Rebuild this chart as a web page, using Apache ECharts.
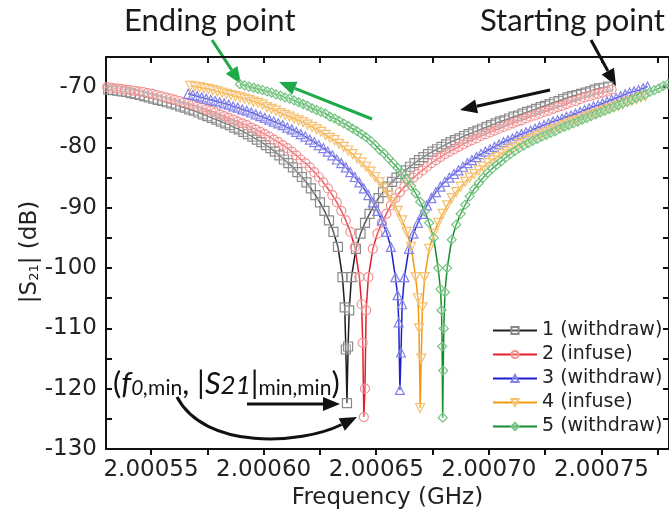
<!DOCTYPE html>
<html>
<head>
<meta charset="utf-8">
<script src="https://cdn.jsdelivr.net/npm/echarts@6/dist/echarts.min.js"></script>
<style>
  html, body { margin: 0; padding: 0; background: #fff; }
  #chart { width: 669px; height: 519px; }
</style>
</head>
<body>
<div id="chart"></div>
<script>
// x values: frequency offset from 2.0005 GHz, in kHz
const baseGHz = 2.0005
const labelTicks = [50, 100, 150, 200, 250]
const allTicks = [50, 75, 100, 125, 150, 175, 200, 225, 250, 275]
const runNames = ['1 (withdraw)', '2 (infuse)', '3 (withdraw)', '4 (infuse)', '5 (withdraw)']

const run1 = [
  [29, -70.3], [31, -70.4], [33, -70.5], [35, -70.6], [37, -70.7], [39, -70.8], [41, -71.0], [43, -71.1],
  [45, -71.3], [47, -71.5], [49, -71.7], [51, -71.9], [53, -72.1], [55, -72.3], [57, -72.5], [59, -72.7],
  [61, -72.9], [63, -73.2], [65, -73.4], [67, -73.7], [69, -73.9], [71, -74.2], [73, -74.5], [75, -74.8],
  [77, -75.1], [79, -75.4], [81, -75.7], [83, -76.0], [85, -76.3], [87, -76.7], [89, -77.0], [91, -77.4],
  [93, -77.8], [95, -78.2], [97, -78.7], [99, -79.1], [101, -79.6], [103, -80.1], [105, -80.7], [107, -81.3],
  [109, -82.0], [111, -82.6], [113, -83.3], [115, -84.1], [117, -84.9], [119, -85.8], [121, -86.8], [123, -87.9],
  [125, -89.1], [127, -90.5], [129, -92.1], [131, -94.0], [133, -96.5], [135, -101.5], [136, -106.5], [136.5, -113.5],
  [137, -122.4], [137.5, -113], [138, -107], [139, -101.5], [141, -96.8], [143, -94.3], [145, -92.5], [147, -91.0],
  [149, -89.6], [151, -88.4], [153, -87.4], [155, -86.5], [157, -85.7], [159, -85.0], [161, -84.4], [163, -83.8],
  [165, -83.2], [167, -82.6], [169, -82.1], [171, -81.6], [173, -81.1], [175, -80.7], [177, -80.3], [179, -79.9],
  [181, -79.5], [183, -79.1], [185, -78.8], [187, -78.5], [189, -78.1], [191, -77.8], [193, -77.5], [195, -77.2],
  [197, -76.9], [199, -76.6], [201, -76.3], [203, -76.0], [205, -75.7], [207, -75.5], [209, -75.2], [211, -74.9],
  [213, -74.7], [215, -74.4], [217, -74.1], [219, -73.9], [221, -73.6], [223, -73.3], [225, -73.1], [227, -72.8],
  [229, -72.5], [231, -72.3], [233, -72.0], [235, -71.7], [237, -71.5], [239, -71.3], [241, -71.1], [243, -70.9],
  [245, -70.7], [247, -70.4], [249, -70.2], [251, -70.1], [253, -69.9]
]

const run2 = [
  [26.5, -69.8], [28.5, -69.9], [30.5, -70.0], [32.5, -70.1], [34.5, -70.2], [36.5, -70.3], [38.5, -70.4], [40.5, -70.5],
  [42.5, -70.6], [44.5, -70.7], [46.5, -70.8], [48.5, -71.0], [50.5, -71.1], [52.5, -71.3], [54.5, -71.5], [56.5, -71.7],
  [58.5, -71.9], [60.5, -72.1], [62.5, -72.3], [64.5, -72.5], [66.5, -72.7], [68.5, -72.9], [70.5, -73.2], [72.5, -73.4],
  [74.5, -73.7], [76.5, -73.9], [78.5, -74.2], [80.5, -74.5], [82.5, -74.8], [84.5, -75.1], [86.5, -75.4], [88.5, -75.7],
  [90.5, -76.0], [92.5, -76.3], [94.5, -76.7], [96.5, -77.0], [98.5, -77.4], [100.5, -77.8], [102.5, -78.2], [104.5, -78.7],
  [106.5, -79.1], [108.5, -79.6], [110.5, -80.1], [112.5, -80.7], [114.5, -81.3], [116.5, -82.0], [118.5, -82.6], [120.5, -83.3],
  [122.5, -84.1], [124.5, -84.9], [126.5, -85.8], [128.5, -86.8], [130.5, -87.9], [132.5, -89.1], [134.5, -90.5], [136.5, -92.1],
  [138.5, -94.0], [140.5, -96.5], [142.5, -101.5], [143.5, -106], [144, -112.4], [144.5, -124.7], [145, -120], [145.5, -107],
  [146.5, -101.5], [148.5, -96.8], [150.5, -94.3], [152.5, -92.5], [154.5, -91.0], [156.5, -89.6], [158.5, -88.4], [160.5, -87.4],
  [162.5, -86.5], [164.5, -85.7], [166.5, -85.0], [168.5, -84.4], [170.5, -83.8], [172.5, -83.2], [174.5, -82.6], [176.5, -82.1],
  [178.5, -81.6], [180.5, -81.1], [182.5, -80.7], [184.5, -80.3], [186.5, -79.9], [188.5, -79.5], [190.5, -79.1], [192.5, -78.8],
  [194.5, -78.5], [196.5, -78.1], [198.5, -77.8], [200.5, -77.5], [202.5, -77.2], [204.5, -76.9], [206.5, -76.6], [208.5, -76.3],
  [210.5, -76.0], [212.5, -75.7], [214.5, -75.5], [216.5, -75.2], [218.5, -74.9], [220.5, -74.7], [222.5, -74.4], [224.5, -74.1],
  [226.5, -73.9], [228.5, -73.6], [230.5, -73.3], [232.5, -73.1], [234.5, -72.8], [236.5, -72.5], [238.5, -72.3], [240.5, -72.0],
  [242.5, -71.7], [244.5, -71.5], [246.5, -71.3], [248.5, -71.1], [250.5, -70.9], [252.5, -70.7], [254.5, -70.4]
]

const run3 = [
  [66.5, -71.1], [68.5, -71.3], [70.5, -71.5], [72.5, -71.7], [74.5, -71.9], [76.5, -72.1], [78.5, -72.3], [80.5, -72.5],
  [82.5, -72.7], [84.5, -72.9], [86.5, -73.2], [88.5, -73.4], [90.5, -73.7], [92.5, -73.9], [94.5, -74.2], [96.5, -74.5],
  [98.5, -74.8], [100.5, -75.1], [102.5, -75.4], [104.5, -75.7], [106.5, -76.0], [108.5, -76.3], [110.5, -76.7], [112.5, -77.0],
  [114.5, -77.4], [116.5, -77.8], [118.5, -78.2], [120.5, -78.7], [122.5, -79.1], [124.5, -79.6], [126.5, -80.1], [128.5, -80.7],
  [130.5, -81.3], [132.5, -82.0], [134.5, -82.6], [136.5, -83.3], [138.5, -84.1], [140.5, -84.9], [142.5, -85.8], [144.5, -86.8],
  [146.5, -87.9], [148.5, -89.1], [150.5, -90.5], [152.5, -92.1], [154.5, -94.0], [156.5, -96.5], [158.5, -101.5], [159.5, -104.5],
  [160, -109], [160.5, -120.2], [161, -114], [161.5, -106], [162.5, -101.5], [164.5, -96.8], [166.5, -94.3], [168.5, -92.5],
  [170.5, -91.0], [172.5, -89.6], [174.5, -88.4], [176.5, -87.4], [178.5, -86.5], [180.5, -85.7], [182.5, -85.0], [184.5, -84.4],
  [186.5, -83.8], [188.5, -83.2], [190.5, -82.6], [192.5, -82.1], [194.5, -81.6], [196.5, -81.1], [198.5, -80.7], [200.5, -80.3],
  [202.5, -79.9], [204.5, -79.5], [206.5, -79.1], [208.5, -78.8], [210.5, -78.5], [212.5, -78.1], [214.5, -77.8], [216.5, -77.5],
  [218.5, -77.2], [220.5, -76.9], [222.5, -76.6], [224.5, -76.3], [226.5, -76.0], [228.5, -75.7], [230.5, -75.5], [232.5, -75.2],
  [234.5, -74.9], [236.5, -74.7], [238.5, -74.4], [240.5, -74.1], [242.5, -73.8], [244.5, -73.5], [246.5, -73.2], [248.5, -73.0],
  [250.5, -72.7], [252.5, -72.4], [254.5, -72.1], [256.5, -71.8], [258.5, -71.5], [260.5, -71.2], [262.5, -70.9], [264.5, -70.7],
  [266.5, -70.5], [268.5, -70.2], [270.5, -69.9]
]

const run4 = [
  [67.5, -69.8], [69.5, -69.9], [71.5, -70.0], [73.5, -70.2], [75.5, -70.3], [77.5, -70.5], [79.5, -70.7], [81.5, -70.9],
  [83.5, -71.1], [85.5, -71.3], [87.5, -71.5], [89.5, -71.7], [91.5, -71.9], [93.5, -72.1], [95.5, -72.4], [97.5, -72.6],
  [99.5, -72.9], [101.5, -73.3], [103.5, -73.6], [105.5, -73.9], [107.5, -74.3], [109.5, -74.6], [111.5, -74.9], [113.5, -75.2],
  [115.5, -75.5], [117.5, -75.8], [119.5, -76.2], [121.5, -76.6], [123.5, -77.0], [125.5, -77.4], [127.5, -77.9], [129.5, -78.4],
  [131.5, -78.8], [133.5, -79.4], [135.5, -79.9], [137.5, -80.5], [139.5, -81.1], [141.5, -81.8], [143.5, -82.5], [145.5, -83.2],
  [147.5, -84.0], [149.5, -84.9], [151.5, -85.8], [153.5, -86.8], [155.5, -87.9], [157.5, -89.1], [159.5, -90.5], [161.5, -92.1],
  [163.5, -94.0], [165.5, -96.5], [167.5, -101.5], [168.5, -105], [169, -110], [169.5, -123.2], [170, -115], [170.5, -106.5],
  [171.5, -101.5], [173.5, -96.8], [175.5, -94.3], [177.5, -92.5], [179.5, -91.0], [181.5, -89.6], [183.5, -88.4], [185.5, -87.4],
  [187.5, -86.5], [189.5, -85.7], [191.5, -85.0], [193.5, -84.4], [195.5, -83.8], [197.5, -83.2], [199.5, -82.6], [201.5, -82.1],
  [203.5, -81.6], [205.5, -81.1], [207.5, -80.7], [209.5, -80.3], [211.5, -79.9], [213.5, -79.5], [215.5, -79.1], [217.5, -78.8],
  [219.5, -78.5], [221.5, -78.1], [223.5, -77.8], [225.5, -77.5], [227.5, -77.2], [229.5, -76.9], [231.5, -76.6], [233.5, -76.3],
  [235.5, -76.0], [237.5, -75.7], [239.5, -75.5], [241.5, -75.2], [243.5, -74.9], [245.5, -74.7], [247.5, -74.4], [249.5, -74.1],
  [251.5, -73.9], [253.5, -73.6], [255.5, -73.3], [257.5, -73.1], [259.5, -72.8], [261.5, -72.5], [263.5, -72.3], [265.5, -72.0],
  [267.5, -71.7], [269.5, -71.5]
]

const run5 = [
  [89.5, -69.5], [91.5, -69.7], [93.5, -69.9], [95.5, -70.1], [97.5, -70.3], [99.5, -70.5], [101.5, -70.7], [103.5, -70.9],
  [105.5, -71.2], [107.5, -71.4], [109.5, -71.7], [111.5, -71.9], [113.5, -72.2], [115.5, -72.5], [117.5, -72.8], [119.5, -73.1],
  [121.5, -73.5], [123.5, -73.8], [125.5, -74.1], [127.5, -74.4], [129.5, -74.9], [131.5, -75.2], [133.5, -75.6], [135.5, -76.0],
  [137.5, -76.4], [139.5, -76.9], [141.5, -77.3], [143.5, -77.8], [145.5, -78.3], [147.5, -78.9], [149.5, -79.6], [151.5, -80.4],
  [153.5, -81.0], [155.5, -81.8], [157.5, -82.6], [159.5, -83.4], [161.5, -84.3], [163.5, -85.3], [165.5, -86.4], [167.5, -87.6],
  [169.5, -89.0], [171.5, -90.6], [173.5, -92.5], [175.5, -95.0], [177.5, -100.0], [178.5, -103.5], [179, -107], [179.25, -113],
  [179.5, -124.8], [179.75, -117], [180, -110], [180.5, -104], [181.5, -100.0], [183.5, -95.3], [185.5, -92.8], [187.5, -91.0],
  [189.5, -89.5], [191.5, -88.1], [193.5, -86.9], [195.5, -85.9], [197.5, -85.0], [199.5, -84.2], [201.5, -83.5], [203.5, -82.9],
  [205.5, -82.3], [207.5, -81.7], [209.5, -81.1], [211.5, -80.6], [213.5, -80.1], [215.5, -79.7], [217.5, -79.3], [219.5, -78.9],
  [221.5, -78.6], [223.5, -78.2], [225.5, -77.9], [227.5, -77.6], [229.5, -77.3], [231.5, -76.9], [233.5, -76.6], [235.5, -76.3],
  [237.5, -76.0], [239.5, -75.7], [241.5, -75.4], [243.5, -75.1], [245.5, -74.8], [247.5, -74.5], [249.5, -74.2], [251.5, -73.9],
  [253.5, -73.6], [255.5, -73.3], [257.5, -73.0], [259.5, -72.7], [261.5, -72.4], [263.5, -72.1], [265.5, -71.8], [267.5, -71.5],
  [269.5, -71.2], [271.5, -70.8], [273.5, -70.5], [275.5, -70.2], [277.5, -69.8], [279.5, -69.5], [281.5, -69.3], [283.5, -69.1]
]

const runs = [run1, run2, run3, run4, run5]

const looks = [
  { symbol: 'rect', rotate: 0, line: '#1e1e1e', edge: '#8a8a8a' },
  { symbol: 'circle', rotate: 0, line: '#e3202a', edge: '#f29090' },
  { symbol: 'triangle', rotate: 0, line: '#1e1ed0', edge: '#8282e8' },
  { symbol: 'triangle', rotate: 180, line: '#f39a10', edge: '#f6c070' },
  { symbol: 'diamond', rotate: 0, line: '#168c2c', edge: '#72c47e' },
]

const font = 'DejaVu Sans'
const noteFont = 'Lato'

function arrow(x1, y1, x2, y2, color) {
  const len = Math.hypot(x2 - x1, y2 - y1)
  const ux = (x2 - x1) / len, uy = (y2 - y1) / len
  const hl = 17, hw = 7
  const bx = x2 - ux * hl, by = y2 - uy * hl
  return [
    { type: 'line', shape: { x1, y1, x2: bx, y2: by }, style: { stroke: color, lineWidth: 3 } },
    { type: 'polygon', shape: { points: [[x2, y2], [bx - uy * hw, by + ux * hw], [bx + uy * hw, by - ux * hw]] }, style: { fill: color } },
  ]
}

function curvedArrow(x1, y1, c1x, c1y, c2x, c2y, x2, y2, color) {
  const len = Math.hypot(x2 - c2x, y2 - c2y)
  const ux = (x2 - c2x) / len, uy = (y2 - c2y) / len
  const hl = 17, hw = 7
  const bx = x2 - ux * hl, by = y2 - uy * hl
  return [
    { type: 'bezierCurve', shape: { x1, y1, cpx1: c1x, cpy1: c1y, cpx2: c2x, cpy2: c2y, x2: bx, y2: by }, style: { stroke: color, lineWidth: 3, fill: null } },
    { type: 'polygon', shape: { points: [[x2, y2], [bx - uy * hw, by + ux * hw], [bx + uy * hw, by - ux * hw]] }, style: { fill: color } },
  ]
}

const green = '#1faa4a'
const black = '#111'

const chart = echarts.init(document.getElementById('chart'))

chart.setOption({
  animation: false,
  textStyle: { fontFamily: font },
  grid: { left: 106, top: 57, width: 567, height: 392 },
  legend: {
    orient: 'vertical',
    left: 487,
    top: 316,
    itemWidth: 44,
    itemHeight: 9,
    itemGap: 5,
    selectedMode: false,
    data: runNames,
    textStyle: { fontSize: 19, color: '#222', fontFamily: font },
  },
  xAxis: [
    {
      type: 'value',
      position: 'bottom',
      min: 30,
      max: 280,
      name: 'Frequency (GHz)',
      nameLocation: 'middle',
      nameGap: 36,
      nameTextStyle: { fontSize: 23, color: '#222' },
      axisLine: { lineStyle: { color: black, width: 2 } },
      axisTick: { customValues: allTicks, inside: false, length: 6, lineStyle: { color: black, width: 2 } },
      axisLabel: {
        customValues: labelTicks,
        fontSize: 23,
        color: '#222',
        margin: 10,
        formatter: v => (baseGHz + v / 1e6).toFixed(5),
      },
      splitLine: { show: false },
    },
    {
      type: 'value',
      position: 'top',
      min: 30,
      max: 280,
      axisLine: { onZero: false, lineStyle: { color: black, width: 2 } },
      axisTick: { customValues: allTicks, inside: true, length: 6, lineStyle: { color: black, width: 2 } },
      axisLabel: { show: false },
      splitLine: { show: false },
    },
  ],
  yAxis: [
    {
      type: 'value',
      position: 'left',
      min: -130,
      max: -65,
      interval: 5,
      axisLine: { onZero: false, lineStyle: { color: black, width: 2 } },
      axisTick: { inside: true, length: 6, lineStyle: { color: black, width: 2 } },
      axisLabel: { fontSize: 23, color: '#222', margin: 9, formatter: v => (v % 10 === 0 ? String(v) : '') },
      splitLine: { show: false },
    },
    {
      type: 'value',
      position: 'right',
      min: -130,
      max: -65,
      interval: 5,
      axisLine: { onZero: false, lineStyle: { color: black, width: 2 } },
      axisTick: { inside: true, length: 6, lineStyle: { color: black, width: 2 } },
      axisLabel: { show: false },
      splitLine: { show: false },
    },
  ],
  series: runs.map((data, i) => ({
    name: runNames[i],
    type: 'line',
    data,
    symbol: looks[i].symbol,
    symbolRotate: looks[i].rotate,
    symbolSize: 9,
    showAllSymbol: true,
    silent: true,
    lineStyle: { color: looks[i].line, width: 1.5 },
    itemStyle: { color: 'rgba(255,255,255,0.25)', borderColor: looks[i].edge, borderWidth: 1.2 },
  })),
  graphic: [
    {
      type: 'text',
      x: 30,
      y: 252,
      rotation: Math.PI / 2,
      style: {
        text: '|S{sub|21}| (dB)',
        align: 'center',
        verticalAlign: 'middle',
        font: `23px ${font}`,
        fill: '#222',
        rich: { sub: { fontSize: 13, fontFamily: font, verticalAlign: 'bottom', lineHeight: 14 } },
      },
    },
    { type: 'text', left: 124, top: 5, style: { text: 'Ending point', font: `31px ${noteFont}`, fill: '#1a1a1a' } },
    { type: 'text', left: 480, top: 5, style: { text: 'Starting point', font: `31px ${noteFont}`, fill: '#1a1a1a' } },
    {
      type: 'text',
      left: 113,
      top: 368,
      style: {
        text: '{n|(}{i|f}{si|0,}{s|min}{n|, |}{i|S}{i2|21}{n||}{s|min,min}{n|)}',
        fill: '#111',
        rich: {
          n: { fontSize: 31, fontFamily: noteFont, lineHeight: 34, verticalAlign: 'bottom' },
          i: { fontSize: 31, fontFamily: noteFont, fontStyle: 'italic', lineHeight: 34, verticalAlign: 'bottom' },
          i2: { fontSize: 26, fontFamily: noteFont, fontStyle: 'italic', lineHeight: 28, verticalAlign: 'bottom' },
          si: { fontSize: 21, fontFamily: noteFont, fontStyle: 'italic', lineHeight: 17, verticalAlign: 'bottom' },
          s: { fontSize: 21, fontFamily: noteFont, lineHeight: 17, verticalAlign: 'bottom' },
        },
      },
    },
    ...arrow(212, 40, 241, 84, green),
    ...arrow(372, 119, 279, 82, green),
    ...arrow(591, 40, 616, 86, black),
    ...arrow(550, 90, 460, 110, black),
    ...arrow(247, 404, 340, 404, black),
    ...curvedArrow(177, 397, 205, 450, 300, 445, 357, 417, black),
  ],
})
</script>
</body>
</html>
